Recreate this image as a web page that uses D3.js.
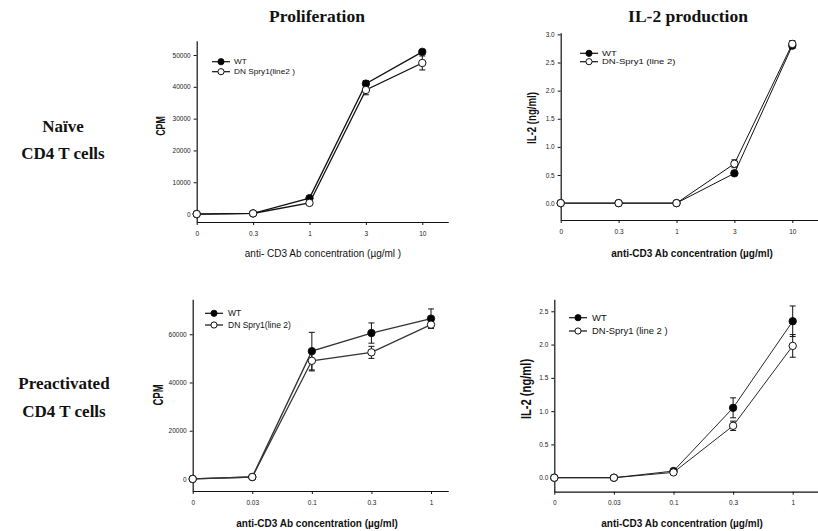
<!DOCTYPE html>
<html>
<head>
<meta charset="utf-8">
<script src="https://cdn.jsdelivr.net/npm/d3@7"></script>
<style>
  html, body { margin: 0; padding: 0; background: #fff; }
  svg { display: block; }
  .tick text { font-family: "Liberation Sans", Arial, sans-serif; fill: #222; }
</style>
</head>
<body>
<svg id="fig" width="818" height="531"></svg>
<script>
// ---- data ----
const naiveDoses = ["0", "0.3", "1", "3", "10"];
const preDoses = ["0", "0.03", "0.1", "0.3", "1"];

// Naive CD4, proliferation (CPM)
const prolNaiveWT = [0, 200, 5000, 41000, 51000];
const prolNaiveWTErr = [0, 0, 500, 1000, 700];
const prolNaiveDN = [0, 200, 3500, 39000, 47500];
const prolNaiveDNErr = [0, 0, 400, 1500, 2200];
const prolNaiveTicks = [0, 10000, 20000, 30000, 40000, 50000];

// Naive CD4, IL-2 (ng/ml)
const il2NaiveWT = [0, 0, 0, 0.53, 2.80];
const il2NaiveWTErr = [0, 0, 0, 0.04, 0.05];
const il2NaiveDN = [0, 0, 0, 0.70, 2.83];
const il2NaiveDNErr = [0, 0, 0, 0.07, 0.06];
const il2NaiveTicks = [0, 0.5, 1.0, 1.5, 2.0, 2.5, 3.0];

// Preactivated CD4, proliferation (CPM)
const prolPreWT = [0, 800, 53000, 60500, 66500];
const prolPreWTErr = [0, 0, 7800, 4200, 4000];
const prolPreDN = [0, 800, 49000, 52500, 64000];
const prolPreDNErr = [0, 0, 4200, 2500, 1500];
const prolPreTicks = [0, 20000, 40000, 60000];

// Preactivated CD4, IL-2 (ng/ml)
const il2PreWT = [0, 0, 0.10, 1.05, 2.35];
const il2PreWTErr = [0, 0, 0.01, 0.15, 0.23];
const il2PreDN = [0, 0, 0.08, 0.78, 1.98];
const il2PreDNErr = [0, 0, 0.01, 0.07, 0.17];
const il2PreTicks = [0, 0.5, 1.0, 1.5, 2.0, 2.5];

// ---- panels ----
const panels = [
  {
    cats: naiveDoses, wt: prolNaiveWT, wtErr: prolNaiveWTErr, dn: prolNaiveDN, dnErr: prolNaiveDNErr,
    ticks: prolNaiveTicks, fmt: d3.format("d"),
    yDomain: [-2500, 54500], xExtra: 0.46,
    left: 196.7, lastX: 422.3, top: 40.7, bottom: 222,
    yLabel: "CPM", yLabelX: 160, yLabelY: 126, yLabelSize: 13, yLabelScale: 0.68,
    xTitle: "anti- CD3 Ab concentration (\u00b5g/ml )", xTitleBold: false, xTitleX: 323, xTitleY: 257, xTitleSize: 10,
    legendTexts: ["WT", "DN Spry1(line2 )"], legend: { x1: 212, x2: 230, y: [61.7, 71.7], tx: 234, size: 7.5, sx: 1.1 },
    lineColor: "#111", lineWidth: 1.3
  },
  {
    cats: naiveDoses, wt: il2NaiveWT, wtErr: il2NaiveWTErr, dn: il2NaiveDN, dnErr: il2NaiveDNErr,
    ticks: il2NaiveTicks, fmt: d3.format(".1f"),
    yDomain: [-0.3, 3.03], xExtra: 0.44,
    left: 560.7, lastX: 792.3, top: 32.7, bottom: 220,
    yLabel: "IL-2 (ng/ml)", yLabelX: 531, yLabelY: 118, yLabelSize: 13, yLabelScale: 0.74,
    xTitle: "anti-CD3 Ab concentration (\u00b5g/ml)", xTitleBold: true, xTitleX: 692, xTitleY: 257, xTitleSize: 10,
    legendTexts: ["WT", "DN-Spry1 (line 2)"], legend: { x1: 580, x2: 598, y: [53.3, 61.7], tx: 602, size: 7.8, sx: 1.22 },
    lineColor: "#111", lineWidth: 1.0
  },
  {
    cats: preDoses, wt: prolPreWT, wtErr: prolPreWTErr, dn: prolPreDN, dnErr: prolPreDNErr,
    ticks: prolPreTicks, fmt: d3.format("d"),
    yDomain: [-5000, 74500], xExtra: 0.29,
    left: 192.7, lastX: 431, top: 299.3, bottom: 491,
    yLabel: "CPM", yLabelX: 158, yLabelY: 395, yLabelSize: 14, yLabelScale: 0.68,
    xTitle: "anti-CD3 Ab concentration (\u00b5g/ml)", xTitleBold: true, xTitleX: 317, xTitleY: 527, xTitleSize: 10,
    legendTexts: ["WT", "DN Spry1(line 2)"], legend: { x1: 205, x2: 223, y: [313.3, 325], tx: 228, size: 8.5, sx: 1.0 },
    lineColor: "#333", lineWidth: 1.3
  },
  {
    cats: preDoses, wt: il2PreWT, wtErr: il2PreWTErr, dn: il2PreDN, dnErr: il2PreDNErr,
    ticks: il2PreTicks, fmt: d3.format(".1f"),
    yDomain: [-0.21, 2.68], xExtra: 0.42,
    left: 554.3, lastX: 792.7, top: 299.3, bottom: 491.7,
    yLabel: "IL-2 (ng/ml)", yLabelX: 526, yLabelY: 389, yLabelSize: 14, yLabelScale: 0.8,
    xTitle: "anti-CD3 Ab concentration (\u00b5g/ml)", xTitleBold: true, xTitleX: 682, xTitleY: 527, xTitleSize: 10,
    legendTexts: ["WT", "DN-Spry1 (line 2 )"], legend: { x1: 569, x2: 587, y: [317.7, 331], tx: 592, size: 9, sx: 1.05 },
    lineColor: "#111", lineWidth: 0.9
  }
];

const svg = d3.select("#fig");
const sans = '"Liberation Sans", Arial, sans-serif';
const serif = '"Liberation Serif", "Times New Roman", serif';

// column titles
svg.append("text").attr("x", 317).attr("y", 22).attr("text-anchor", "middle")
  .attr("font-family", serif).attr("font-weight", "bold").attr("font-size", 17.5)
  .attr("fill", "#111").text("Proliferation");
svg.append("text").attr("x", 688).attr("y", 22).attr("text-anchor", "middle")
  .attr("font-family", serif).attr("font-weight", "bold").attr("font-size", 17.5)
  .attr("fill", "#111").text("IL-2 production");

// row labels
const rowLabels = [
  { lines: ["Na\u00efve", "CD4 T cells"], x: 63, y: [132, 159] },
  { lines: ["Preactivated", "CD4 T cells"], x: 64, y: [389, 417] }
];
rowLabels.forEach(r => {
  r.lines.forEach((t, i) => {
    svg.append("text").attr("x", r.x).attr("y", r.y[i]).attr("text-anchor", "middle")
      .attr("font-family", serif).attr("font-weight", "bold").attr("font-size", 17)
      .attr("fill", "#111").text(t);
  });
});

panels.forEach(p => {
  const n = p.cats.length;
  const step = (p.lastX - p.left) / (n - 1);
  const x = d3.scaleLinear().domain([0, n - 1 + p.xExtra])
    .range([p.left, p.lastX + p.xExtra * step]);
  const y = d3.scaleLinear().domain(p.yDomain).range([p.bottom, p.top]);
  const g = svg.append("g");

  // axes
  const yAxis = d3.axisLeft(y).tickValues(p.ticks).tickFormat(p.fmt)
    .tickSizeInner(3).tickSizeOuter(0).tickPadding(3);
  const gy = g.append("g").attr("transform", `translate(${p.left},0)`).call(yAxis);
  const xAxis = d3.axisBottom(x).tickValues(d3.range(n)).tickFormat(i => p.cats[i])
    .tickSizeInner(3).tickSizeOuter(0).tickPadding(6);
  const gx = g.append("g").attr("transform", `translate(0,${p.bottom})`).call(xAxis);
  [gx, gy].forEach(a => {
    a.selectAll("path.domain").attr("stroke", "#111").attr("stroke-width", 1.2);
    a.selectAll(".tick line").attr("stroke", "#111");
    a.selectAll(".tick text").attr("font-size", 6.5).attr("font-family", sans);
  });

  // axis titles
  g.append("text")
    .attr("transform", `translate(${p.yLabelX},${p.yLabelY}) rotate(-90) scale(${p.yLabelScale},1)`)
    .attr("text-anchor", "middle").attr("dy", "0.35em")
    .attr("font-family", sans).attr("font-weight", "bold").attr("font-size", p.yLabelSize)
    .attr("fill", "#111").text(p.yLabel);
  g.append("text").attr("x", p.xTitleX).attr("y", p.xTitleY).attr("text-anchor", "middle")
    .attr("font-family", sans).attr("font-weight", p.xTitleBold ? "bold" : "normal")
    .attr("font-size", p.xTitleSize).attr("fill", "#111").text(p.xTitle);

  const line = d3.line().x((d, i) => x(i)).y(d => y(d));
  const series = [
    { vals: p.wt, err: p.wtErr, fill: "#000" },
    { vals: p.dn, err: p.dnErr, fill: "#fff" }
  ];

  // connecting lines
  series.forEach(s => {
    g.append("path").datum(s.vals).attr("d", line).attr("fill", "none")
      .attr("stroke", p.lineColor).attr("stroke-width", p.lineWidth);
  });

  // error bars
  series.forEach(s => {
    s.vals.forEach((v, i) => {
      const e = s.err[i];
      if (!e) return;
      const cx = x(i);
      const eg = g.append("g").attr("stroke", "#111").attr("stroke-width", 1);
      eg.append("line").attr("x1", cx).attr("x2", cx).attr("y1", y(v - e)).attr("y2", y(v + e));
      eg.append("line").attr("x1", cx - 3).attr("x2", cx + 3).attr("y1", y(v + e)).attr("y2", y(v + e));
      eg.append("line").attr("x1", cx - 3).attr("x2", cx + 3).attr("y1", y(v - e)).attr("y2", y(v - e));
    });
  });

  // markers
  series.forEach(s => {
    g.selectAll(null).data(s.vals).enter().append("circle")
      .attr("cx", (d, i) => x(i)).attr("cy", d => y(d)).attr("r", 3.7)
      .attr("fill", s.fill).attr("stroke", "#111").attr("stroke-width", 1);
  });

  // legend
  const L = p.legend;
  series.forEach((s, k) => {
    g.append("line").attr("x1", L.x1).attr("x2", L.x2).attr("y1", L.y[k]).attr("y2", L.y[k])
      .attr("stroke", "#111").attr("stroke-width", 1.2);
    g.append("circle").attr("cx", (L.x1 + L.x2) / 2).attr("cy", L.y[k]).attr("r", 3.1)
      .attr("fill", s.fill).attr("stroke", "#111").attr("stroke-width", 1);
    g.append("text")
      .attr("transform", `translate(${L.tx},${L.y[k]}) scale(${L.sx},1)`)
      .attr("dy", "0.35em")
      .attr("font-family", sans).attr("font-size", L.size).attr("fill", "#111")
      .text(p.legendTexts[k]);
  });
});
</script>
</body>
</html>
